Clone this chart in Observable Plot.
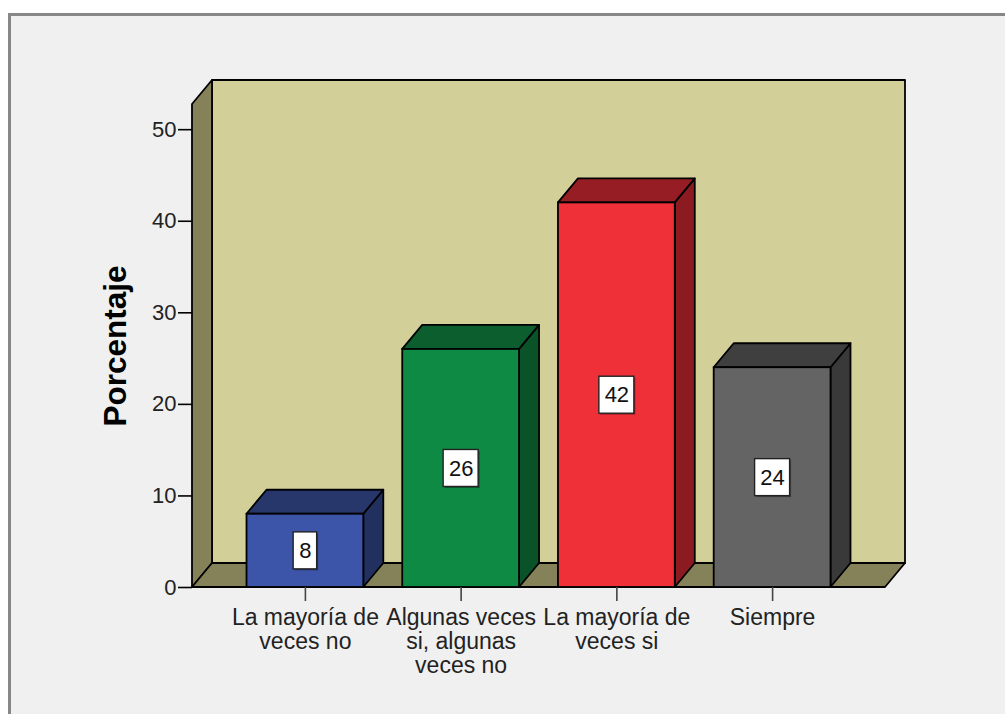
<!DOCTYPE html>
<html><head><meta charset="utf-8">
<script src="https://cdn.jsdelivr.net/npm/d3@7"></script>
<script src="https://cdn.jsdelivr.net/npm/@observablehq/plot@0.6"></script>
<style>
html,body{margin:0;padding:0;background:#fff;overflow:hidden;}
#wrap{position:relative;width:1005px;height:714px;overflow:hidden;}
#frame{position:absolute;left:8px;top:13px;width:1020px;height:720px;background:#f0f0f0;border-top:3px solid #878787;border-left:3px solid #878787;}
#chart{position:absolute;left:0;top:0;}
</style></head><body>
<div id="wrap"><div id="frame"></div><div id="chart"></div></div>
<script>
// ---- data ----
const categories = ["La mayoría de veces no", "Algunas veces si, algunas veces no", "La mayoría de veces si", "Siempre"];
const values = [8, 26, 42, 24];
const tickLabels = ["La mayoría de\nveces no", "Algunas veces\nsi, algunas\nveces no", "La mayoría de\nveces si", "Siempre"];
const yTicks = [0, 10, 20, 30, 40, 50];
const yLabel = "Porcentaje";

// ---- styles ----
const frontColors = ["#3c55a8", "#0f8a45", "#ef3039", "#646464"];
const topColors = ["#27366b", "#0c5e2f", "#961d23", "#3f3f3f"];
const sideColors = ["#223060", "#0a5227", "#8c1b21", "#393939"];
const wallColor = "#d3cf99", sideWallColor = "#85825a";
const DX = 20, DY = 24;

const data = categories.map((c, i) => ({category: c, value: values[i], i}));

function poly(g, pts, fill, sw = 1.8) {
  g.append("path")
    .attr("d", "M" + pts.map(p => p.join(",")).join("L") + "Z")
    .attr("fill", fill).attr("stroke", "#000").attr("stroke-width", sw)
    .attr("stroke-linejoin", "round");
}
const bwOf = (x) => typeof x.bandwidth === "function" ? x.bandwidth() : x.bandwidth;

const walls = (index, scales) => {
  const {x, y} = scales;
  const g = d3.create("svg:g");
  const [x0, x1] = x.range();
  const [y0, y1] = y.range();
  poly(g, [[x0 + DX, y1 - DY], [x1 + DX, y1 - DY], [x1 + DX, y0 - DY], [x0 + DX, y0 - DY]], wallColor);
  poly(g, [[x0, y0], [x0, y1], [x0 + DX, y1 - DY], [x0 + DX, y0 - DY]], sideWallColor);
  poly(g, [[x0, y0], [x1, y0], [x1 + DX, y0 - DY], [x0 + DX, y0 - DY]], sideWallColor);
  return g.node();
};

const bars3d = (index, scales) => {
  const {x, y} = scales;
  const bw = bwOf(x);
  const g = d3.create("svg:g");
  const yb = y(0);
  for (const d of data) {
    const bx = x(d.category), yt = y(d.value);
    poly(g, [[bx + bw, yt], [bx + bw + DX, yt - DY], [bx + bw + DX, yb - DY], [bx + bw, yb]], sideColors[d.i]);
    poly(g, [[bx, yt], [bx + DX, yt - DY], [bx + bw + DX, yt - DY], [bx + bw, yt]], topColors[d.i]);
  }
  return g.node();
};

const labelBoxes = (index, scales) => {
  const {x, y} = scales;
  const bw = bwOf(x);
  const g = d3.create("svg:g");
  for (const d of data) {
    const cx = x(d.category) + bw / 2, cy = y(d.value / 2);
    const w = 11.5 * String(d.value).length + 12, h = 37;
    g.append("rect").attr("x", cx - w / 2 + 1.5).attr("y", cy - h / 2 + 1.5).attr("width", w).attr("height", h)
      .attr("fill", "rgba(0,0,0,0.35)");
    g.append("rect").attr("x", cx - w / 2).attr("y", cy - h / 2).attr("width", w).attr("height", h)
      .attr("fill", "#fff").attr("stroke", "#222").attr("stroke-width", 1.4);
  }
  return g.node();
};

const chart = Plot.plot({
  width: 1005,
  height: 714,
  marginLeft: 192,
  marginRight: 120,
  marginTop: 104,
  marginBottom: 127,
  style: {background: "transparent", fontFamily: "'Liberation Sans', Arial, sans-serif", color: "#111", overflow: "visible"},
  x: {domain: categories, paddingInner: 0.25, paddingOuter: 0.35, round: false, label: null},
  y: {domain: [0, 52.75], label: null},
  color: {domain: categories, range: frontColors},
  marks: [
    walls,
    bars3d,
    Plot.barY(data, {x: "category", y: "value", fill: "category", stroke: "#000", strokeWidth: 1.8}),
    labelBoxes,
    Plot.text(data, {x: "category", y: d => d.value / 2, text: d => String(d.value), fontSize: 22, fill: "#111"}),
    Plot.axisY({ticks: yTicks, tickSize: 14, tickPadding: 2, fontSize: 22, label: null, stroke: "#000", strokeWidth: 1.6, fill: "#222"}),
    Plot.axisX({tickSize: 14, tickPadding: 6, fontSize: 23, lineHeight: 1.05, label: null, stroke: "#444", strokeWidth: 1.6, fill: "#222",
      tickFormat: d => tickLabels[categories.indexOf(d)]}),
    Plot.text([yLabel], {frameAnchor: "left", textAnchor: "middle", dx: -77, rotate: -90, fontSize: 31.5, fontWeight: "bold", fill: "#000"})
  ]
});
document.getElementById("chart").appendChild(chart);
</script>
</body></html>
